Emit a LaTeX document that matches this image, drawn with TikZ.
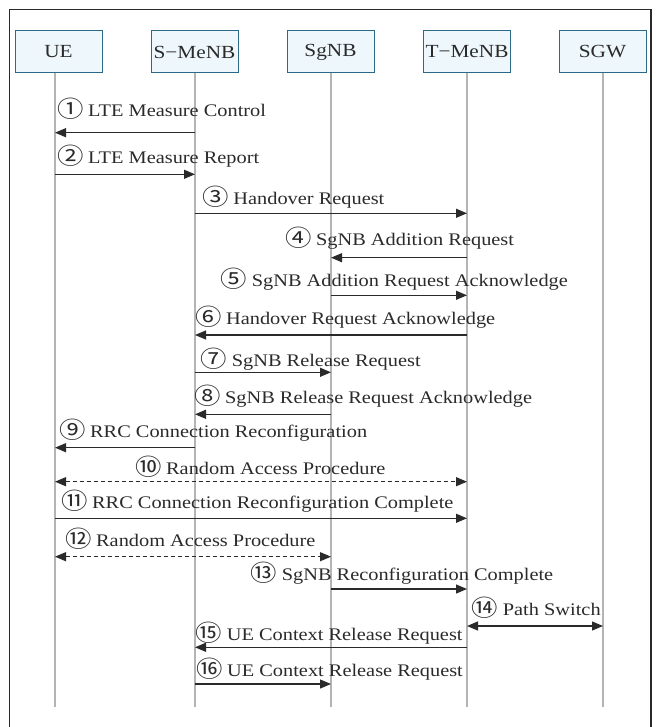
\documentclass[tikz,border=0pt]{standalone}
\usepackage{fontspec}
\setmainfont{Liberation Serif}[FakeStretch=1.15]
\newfontfamily\cjkfont{Noto Sans CJK SC}[FakeStretch=1.15]
\usetikzlibrary{arrows.meta}
\definecolor{boxfill}{HTML}{EEF7FC}
\definecolor{boxline}{HTML}{2C6A88}
\definecolor{lifec}{HTML}{B4B4B4}
\definecolor{inkc}{HTML}{2A2A2A}
\newcommand{\cnum}[1]{\raisebox{-1pt}{\cjkfont\fontsize{23}{23}\selectfont #1}\hspace{4.5pt}}
\begin{document}
\begin{tikzpicture}[x=1pt,y=-1pt,
  hdr/.style={draw=boxline,fill=boxfill,line width=1pt,minimum width=87pt,minimum height=42pt,inner sep=0pt,font=\fontsize{18.5}{20}\selectfont,text=inkc},
  life/.style={draw=lifec,line width=1.4pt},
  msg/.style={draw=inkc,line width=1.2pt,-{Triangle[length=11pt,width=9pt]}},
  both/.style={draw=inkc,line width=1.2pt,{Triangle[length=11pt,width=9pt]}-{Triangle[length=11pt,width=9pt]}},
  dsh/.style={dash pattern=on 4pt off 3pt},
  lbl/.style={anchor=base west,inner sep=0pt,font=\fontsize{17.7}{20}\selectfont,text=inkc}]
\useasboundingbox (0,0) rectangle (655,727);
\draw[inkc,line width=1.3pt] (9.5,730) -- (9.5,9.5) -- (651,9.5) -- (651,730);

\node[hdr] (ue) at (58.5,52) {UE};
\node[hdr] (sm) at (194.5,52) {S−MeNB};
\node[hdr] (sg) at (330.5,52) {SgNB};
\node[hdr] (tm) at (467,52) {T−MeNB};
\node[hdr] (sw) at (602.5,52) {SGW};

\coordinate (lUE) at (55,707);
\coordinate (lSM) at (195,707);
\coordinate (lSG) at (331,707);
\coordinate (lTM) at (467,707);
\coordinate (lSW) at (603,707);
\draw[life] (ue.south -| lUE) -- (lUE);
\draw[life] (sm.south -| lSM) -- (lSM);
\draw[life] (sg.south -| lSG) -- (lSG);
\draw[life] (tm.south -| lTM) -- (lTM);
\draw[life] (sw.south -| lSW) -- (lSW);

\draw[msg] (lSM |- 0,132.7) -- (lUE |- 0,132.7);
\node[lbl] (l1) at (57,116.7) {\cnum{①}LTE Measure Control};
\draw[msg] (lUE |- 0,174.3) -- (lSM |- 0,174.3);
\node[lbl] (l2) at (57,164) {\cnum{②}LTE Measure Report};
\draw[msg] (lSM |- 0,213.3) -- (lTM |- 0,213.3);
\node[lbl] (l3) at (202.3,205) {\cnum{③}Handover Request};
\draw[msg] (lTM |- 0,257.7) -- (lSG |- 0,257.7);
\node[lbl] (l4) at (285,245) {\cnum{④}SgNB Addition Request};
\draw[msg] (lSG |- 0,295.3) -- (lTM |- 0,295.3);
\node[lbl] (l5) at (220.7,286) {\cnum{⑤}SgNB Addition Request Acknowledge};
\draw[msg] (lTM |- 0,335) -- (lSM |- 0,335);
\node[lbl] (l6) at (195,324.5) {\cnum{⑥}Handover Request Acknowledge};
\draw[msg] (lSM |- 0,372.3) -- (lSG |- 0,372.3);
\node[lbl] (l7) at (200.7,366) {\cnum{⑦}SgNB Release Request};
\draw[msg] (lSG |- 0,414.3) -- (lSM |- 0,414.3);
\node[lbl] (l8) at (194,403.5) {\cnum{⑧}SgNB Release Request Acknowledge};
\draw[msg] (lSM |- 0,447.7) -- (lUE |- 0,447.7);
\node[lbl] (l9) at (59,437.3) {\cnum{⑨}RRC Connection Reconfiguration};
\draw[both,dsh] (lUE |- 0,481.7) -- (lTM |- 0,481.7);
\node[lbl] (l10) at (135,474.3) {\cnum{⑩}Random Access Procedure};
\draw[msg] (lUE |- 0,518.3) -- (lTM |- 0,518.3);
\node[lbl] (l11) at (61,508.3) {\cnum{⑪}RRC Connection Reconfiguration Complete};
\draw[both,dsh] (lUE |- 0,556.7) -- (lSG |- 0,556.7);
\node[lbl] (l12) at (65,546.7) {\cnum{⑫}Random Access Procedure};
\draw[msg] (lSG |- 0,589) -- (lTM |- 0,589);
\node[lbl] (l13) at (250.7,580) {\cnum{⑬}SgNB Reconfiguration Complete};
\draw[both] (lTM |- 0,626) -- (lSW |- 0,626);
\node[lbl] (l14) at (471.7,615) {\cnum{⑭}Path Switch};
\draw[msg] (lTM |- 0,647.3) -- (lSM |- 0,647.3);
\node[lbl] (l15) at (195.7,640) {\cnum{⑮}UE Context Release Request};
\draw[msg] (lSM |- 0,684) -- (lSG |- 0,684);
\node[lbl] (l16) at (196,676.7) {\cnum{⑯}UE Context Release Request};
\end{tikzpicture}
\end{document}
